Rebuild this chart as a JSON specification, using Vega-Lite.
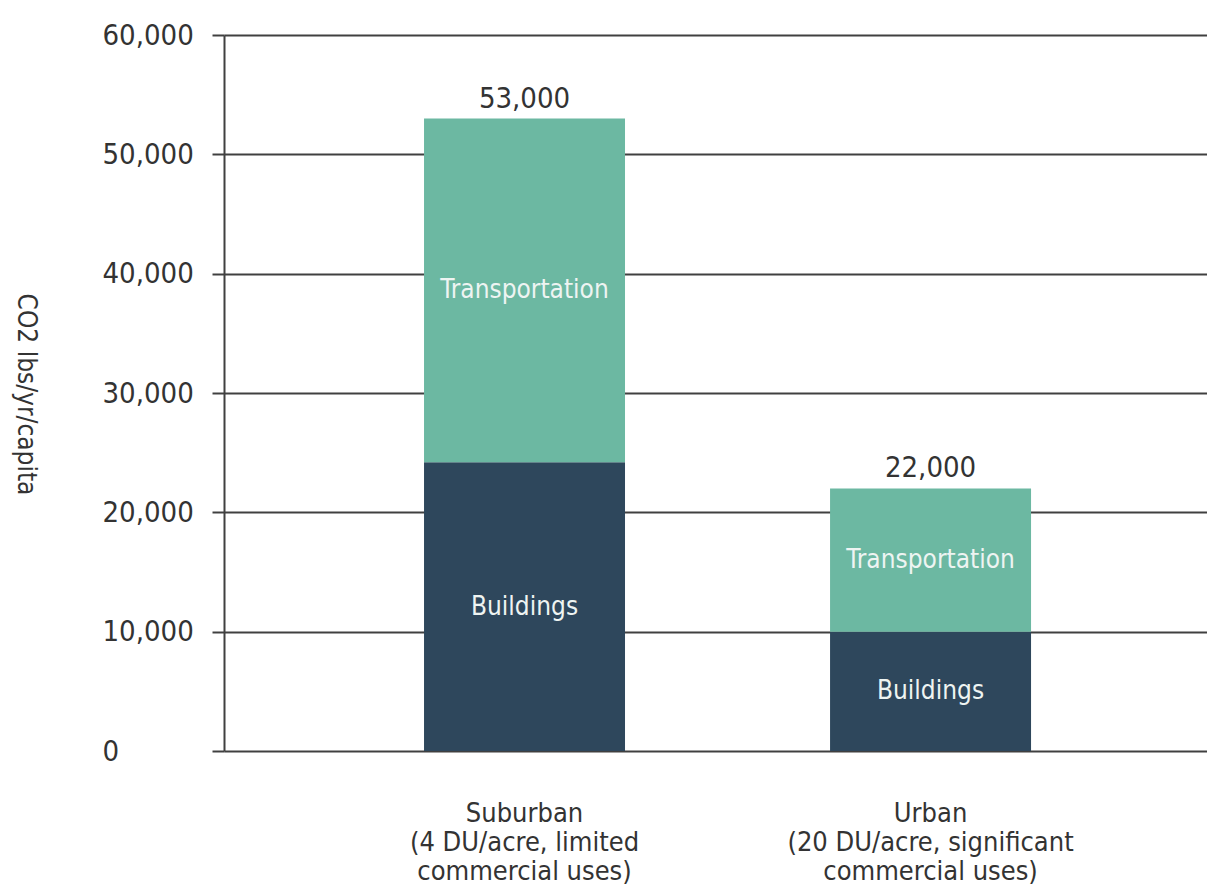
{
  "$schema": "https://vega.github.io/schema/vega-lite/v6.json",
  "autosize": {"type": "none"},
  "padding": {"left": 224, "top": 35, "right": 0, "bottom": 139},
  "width": 983,
  "height": 716,
  "config": {
    "view": {"stroke": null},
    "font": "'DejaVu Sans Condensed', 'Liberation Sans Narrow', sans-serif"
  },
  "data": {
    "values": [
      {"area": "Suburban|(4 DU/acre, limited|commercial uses)", "type": "Buildings", "value": 24200},
      {"area": "Suburban|(4 DU/acre, limited|commercial uses)", "type": "Transportation", "value": 28800},
      {"area": "Urban|(20 DU/acre, significant|commercial uses)", "type": "Buildings", "value": 10000},
      {"area": "Urban|(20 DU/acre, significant|commercial uses)", "type": "Transportation", "value": 12000}
    ]
  },
  "encoding": {
    "x": {
      "field": "area",
      "type": "nominal",
      "sort": null,
      "scale": {"paddingInner": 0.505, "paddingOuter": 0.463, "align": 0.532},
      "axis": {
        "title": null,
        "labelAngle": 0,
        "labelExpr": "split(datum.label, '|')",
        "labelFontSize": 27,
        "labelLineHeight": 29,
        "labelColor": "#333333",
        "labelPadding": 49,
        "labelLimit": 500,
        "ticks": false,
        "domain": false,
        "grid": false
      }
    }
  },
  "layer": [
    {
      "mark": {"type": "bar"},
      "encoding": {
        "y": {
          "field": "value",
          "type": "quantitative",
          "stack": "zero",
          "title": "CO2 lbs/yr/capita",
          "scale": {"domain": [0, 60000], "nice": false},
          "axis": {
            "values": [0, 10000, 20000, 30000, 40000, 50000, 60000],
            "format": ",.0f",
            "grid": true,
            "gridColor": "#404040",
            "gridWidth": 2,
            "gridOpacity": 1,
            "domainColor": "#404040",
            "domainWidth": 2,
            "tickColor": "#404040",
            "tickWidth": 2,
            "tickSize": 12,
            "labelAlign": "left",
            "labelBaseline": "middle",
            "labelPadding": 110,
            "labelFontSize": 29,
            "labelColor": "#333333",
            "titleAngle": 90,
            "titleX": -199,
            "titleY": 359,
            "titleAlign": "center",
            "titleBaseline": "middle",
            "titleFontSize": 26,
            "titleFontWeight": "normal",
            "titleColor": "#333333"
          }
        },
        "color": {
          "field": "type",
          "type": "nominal",
          "scale": {"domain": ["Buildings", "Transportation"], "range": ["#2e475c", "#6cb8a2"]},
          "legend": null
        },
        "order": {"field": "type", "sort": "ascending"}
      }
    },
    {
      "transform": [
        {"stack": "value", "groupby": ["area"], "sort": [{"field": "type"}], "as": ["v0", "v1"]},
        {"calculate": "(datum.v0 + datum.v1) / 2", "as": "mid"}
      ],
      "mark": {"type": "text", "fontSize": 26, "color": "#eef4f2", "baseline": "middle"},
      "encoding": {
        "y": {"field": "mid", "type": "quantitative", "title": "CO2 lbs/yr/capita"},
        "text": {"field": "type"}
      }
    },
    {
      "transform": [
        {"aggregate": [{"op": "sum", "field": "value", "as": "total"}], "groupby": ["area"]}
      ],
      "mark": {"type": "text", "fontSize": 29, "color": "#333333", "baseline": "alphabetic", "dy": -11},
      "encoding": {
        "y": {"field": "total", "type": "quantitative", "title": "CO2 lbs/yr/capita"},
        "text": {"field": "total", "type": "quantitative", "format": ",.0f"}
      }
    }
  ]
}
